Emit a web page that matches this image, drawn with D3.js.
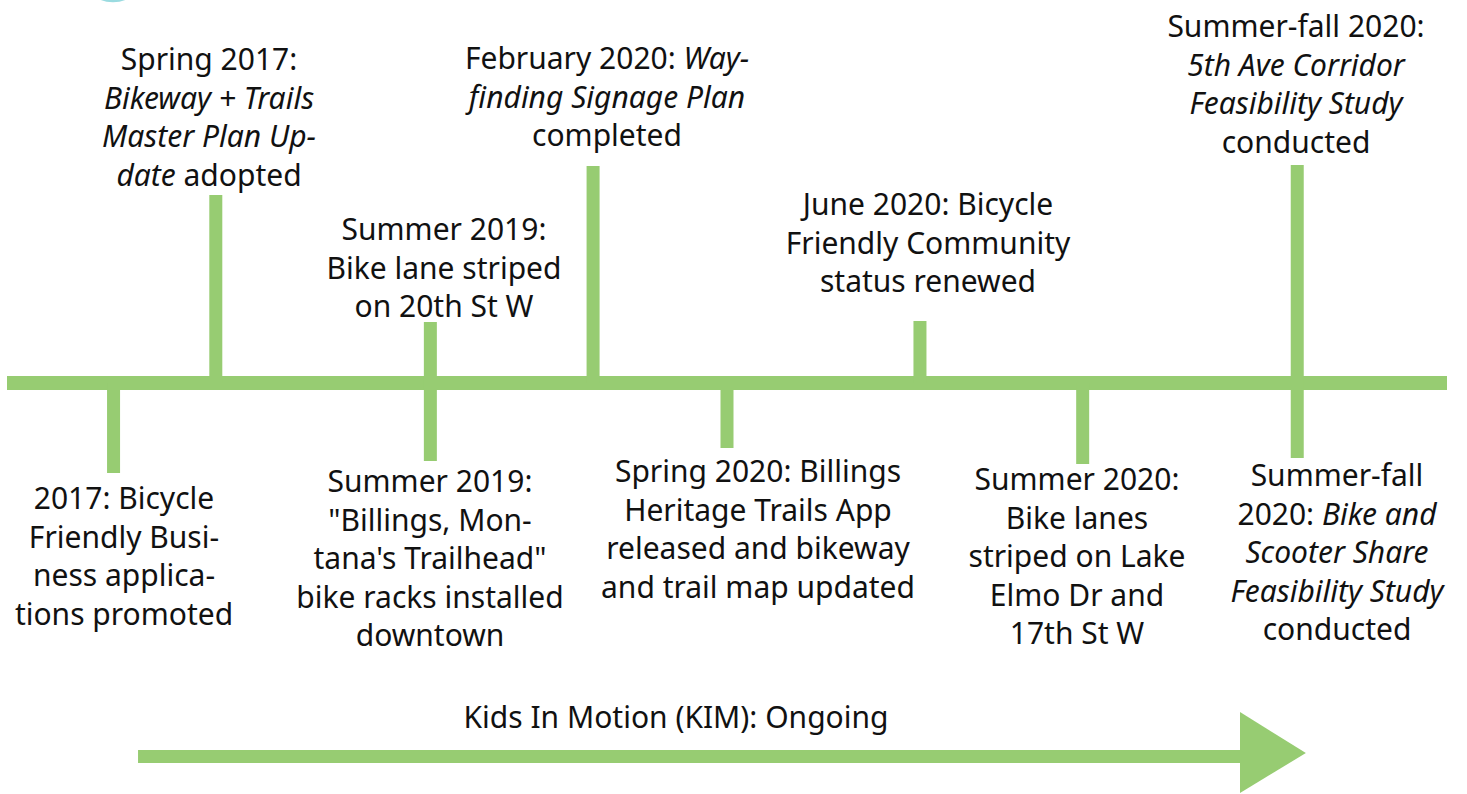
<!DOCTYPE html>
<html>
<head>
<meta charset="utf-8">
<script src="https://cdn.jsdelivr.net/npm/d3@7"></script>
<style>
  html, body { margin: 0; padding: 0; background: #fff; }
  svg { display: block; }
  text { font-family: "Noto Sans", "Liberation Sans", sans-serif; fill: #111; }
</style>
</head>
<body>
<svg id="chart"></svg>
<script>
// timeline positions (arbitrary 0-100 units along the line)
const eventPos = [7.4, 14.5, 29.4, 29.4, 40.7, 50.0, 63.4, 74.7, 89.6, 89.6];
// +1 = stem goes up, -1 = stem goes down
const eventSide = [-1, 1, 1, -1, 1, -1, 1, -1, 1, -1];
// stem length in px
const stemLength = [90, 188, 61, 78, 217, 65, 62, 81, 218, 75];
// label lines, *...* marks italic text
const eventLines = [
  ["2017: Bicycle", "Friendly Busi-", "ness applica-", "tions promoted"],
  ["Spring 2017:", "*Bikeway + Trails*", "*Master Plan Up-*", "*date* adopted"],
  ["Summer 2019:", "Bike lane striped", "on 20th St W"],
  ["Summer 2019:", "\"Billings, Mon-", "tana's Trailhead\"", "bike racks installed", "downtown"],
  ["February 2020: *Way-*", "*finding Signage Plan*", "completed"],
  ["Spring 2020: Billings", "Heritage Trails App", "released and bikeway", "and trail map updated"],
  ["June 2020: Bicycle", "Friendly Community", "status renewed"],
  ["Summer 2020:", "Bike lanes", "striped on Lake", "Elmo Dr and", "17th St W"],
  ["Summer-fall 2020:", "*5th Ave Corridor*", "*Feasibility Study*", "conducted"],
  ["Summer-fall", "2020: *Bike and*", "*Scooter Share*", "*Feasibility Study*", "conducted"]
];
const ongoingLabel = "Kids In Motion (KIM): Ongoing";
const ongoingStart = 9.1;
const ongoingEnd = 90.2;

// layout: label centre x and first baseline
const labelLayout = [
  { x: 124, y: 509 }, { x: 209, y: 70 }, { x: 444, y: 240 }, { x: 430, y: 492 },
  { x: 607, y: 69 }, { x: 758, y: 482 }, { x: 928, y: 215 }, { x: 1077, y: 490 },
  { x: 1296, y: 37 }, { x: 1337, y: 486 }
];

const width = 1467, height = 794;
const green = "#97cc72";
const lineY = 383, lineW = 14, stemW = 13, lineH = 38.5, fontSize = 30;

const svg = d3.select("#chart").attr("width", width).attr("height", height);
const x = d3.scaleLinear().domain([0, 100]).range([7, 1447]);

// teal decoration peeking in at the top
svg.append("ellipse")
  .attr("cx", 113).attr("cy", -16).attr("rx", 24).attr("ry", 17)
  .attr("fill", "#e3f6f7").attr("stroke", "#9adbe0").attr("stroke-width", 2.5);

// main line
svg.append("rect")
  .attr("x", x(0)).attr("y", lineY - lineW / 2)
  .attr("width", x(100) - x(0)).attr("height", lineW)
  .attr("fill", green);

const events = eventPos.map((p, i) => ({
  pos: p, side: eventSide[i], len: stemLength[i], lines: eventLines[i], lay: labelLayout[i]
}));

svg.selectAll("rect.stem").data(events).join("rect")
  .attr("class", "stem")
  .attr("x", d => x(d.pos) - stemW / 2)
  .attr("y", d => d.side > 0 ? lineY - d.len : lineY)
  .attr("width", stemW)
  .attr("height", d => d.len)
  .attr("fill", green);

const labels = svg.selectAll("text.label").data(events).join("text")
  .attr("class", "label")
  .attr("text-anchor", "middle")
  .attr("font-size", fontSize);

labels.each(function(d) {
  const t = d3.select(this);
  d.lines.forEach((line, li) => {
    const parts = line.split("*");
    parts.forEach((part, pi) => {
      if (!part.length) return;
      const ts = t.append("tspan").text(part)
        .attr("font-style", pi % 2 === 1 ? "italic" : "normal");
      if (pi === 0 || (pi === 1 && parts[0] === "")) {
        ts.attr("x", d.lay.x).attr("y", d.lay.y + li * lineH);
      }
    });
  });
});

// ongoing arrow
const arrowY = 756.5;
const headX = 1240;
svg.append("rect")
  .attr("x", x(ongoingStart)).attr("y", arrowY - 6.5)
  .attr("width", headX - x(ongoingStart) + 1).attr("height", 13)
  .attr("fill", green);
svg.append("path")
  .attr("d", `M${headX},712 L${x(ongoingEnd)},753 L${headX},793 Z`)
  .attr("fill", green);
svg.append("text")
  .attr("x", 676).attr("y", 728)
  .attr("text-anchor", "middle")
  .attr("font-size", fontSize)
  .text(ongoingLabel);
</script>
</body>
</html>
